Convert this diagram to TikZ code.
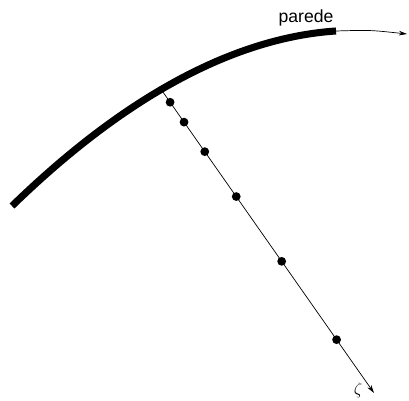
\documentclass[tikz,border=0pt]{standalone}
\usepackage{fontspec}
\setsansfont{Liberation Sans}
\usetikzlibrary{arrows.meta,calc}

\begin{document}
\begin{tikzpicture}[x=0.03cm,y=-0.03cm,>={Stealth[length=7pt,width=4pt]},font=\sffamily,
  dot/.style={circle,fill=black,inner sep=0pt,minimum size=7.5pt}]
  \useasboundingbox (0,0) rectangle (409,401);
  % wall
  \coordinate (a) at (12,206);
  \coordinate (b) at (336,31);
  \coordinate (c) at (407,34);
  \draw[line width=6pt] (a) .. controls (80,140) and (200,40) .. (b);
  \draw[->,line width=0.6pt] (b) .. controls (370,30) .. (c);
  \node[inner sep=0pt,font=\sffamily\fontsize{15}{18}\selectfont] (parede) at (306,18) {parede};
  % normal direction
  \coordinate (w) at (162.7,91.7);
  \coordinate (z) at (374,393);
  \draw[->,line width=0.6pt] (w) -- (z);
  \foreach \t [count=\i] in {0.035,0.101,0.199,0.348,0.563,0.823}
    \node[dot] (d\i) at ($(w)!\t!(z)$) {};
  \node[inner sep=0pt,font=\fontsize{15}{18}\selectfont] (zeta) at (358,390) {$\zeta$};
\end{tikzpicture}
\end{document}
